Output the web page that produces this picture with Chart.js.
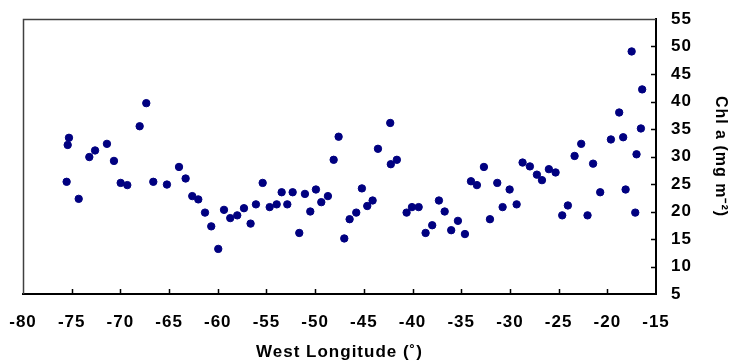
<!DOCTYPE html>
<html>
<head>
<meta charset="utf-8">
<script src="https://cdn.jsdelivr.net/npm/chart.js@4"></script>
<style>
  html, body { margin: 0; padding: 0; background: #fff; }
</style>
</head>
<body>
<canvas id="chlChart" width="730" height="361"></canvas>
<script>
var lonValues = [-75.52, -75.41, -75.28, -74.28, -73.19, -72.6, -71.38, -70.66, -69.97, -69.29,
  -68.02, -67.34, -66.62, -65.22, -63.98, -63.3, -62.62, -62.0, -61.31, -60.67,
  -59.95, -59.36, -58.72, -58.0, -57.31, -56.63, -56.08, -55.39, -54.67, -53.95,
  -53.44, -52.86, -52.31, -51.63, -51.05, -50.5, -49.92, -49.37, -48.69, -48.1,
  -47.59, -47.01, -46.46, -45.78, -45.2, -44.65, -44.1, -43.55, -42.29, -42.23,
  -41.61, -40.61, -40.06, -39.37, -38.66, -37.98, -37.29, -36.7, -36.03, -35.34,
  -34.62, -34.0, -33.39, -32.67, -32.05, -31.3, -30.75, -30.03, -29.31, -28.7,
  -27.95, -27.23, -26.71, -26.0, -25.31, -24.63, -24.05, -23.36, -22.68, -22.03,
  -21.46, -20.73, -19.63, -18.78, -18.37, -18.12, -17.5, -17.13, -17.0, -16.55, -16.42];
var chlValues = [25.4, 32.1, 33.4, 22.3, 29.9, 31.1, 32.3, 29.2, 25.2, 24.8,
  35.5, 39.7, 25.4, 24.9, 28.1, 26.0, 22.8, 22.2, 19.8, 17.3,
  13.2, 20.3, 18.8, 19.3, 20.6, 17.8, 21.3, 25.2, 20.8, 21.3,
  23.5, 21.3, 23.5, 16.1, 23.2, 20.0, 24.0, 21.7, 22.8, 29.4,
  33.6, 15.1, 18.6, 19.8, 24.2, 21.0, 22.0, 31.4, 36.1, 28.6,
  29.4, 19.8, 20.8, 20.8, 16.1, 17.5, 22.0, 20.0, 16.6, 18.3,
  15.9, 25.5, 24.8, 28.1, 18.6, 25.2, 20.8, 24.0, 21.3, 28.9,
  28.2, 26.7, 25.7, 27.7, 27.1, 19.3, 21.1, 30.1, 32.3, 19.3,
  28.7, 23.5, 33.1, 38.0, 33.5, 24.0, 49.1, 19.8, 30.4, 35.1, 42.2];
var xMin = -80, xMax = -15, yMin = 5, yMax = 55, tickStep = 5;
var xTitle = "West Longitude (\u02DA)";
var yTitle = "Chl a (mg m\u207B\u00B2)";
var dotColor = "#000080";

var points = lonValues.map(function (x, i) { return {x: x, y: chlValues[i]}; });

// the reference text is a bit wider than Liberation Sans, space it out
var wideText = {
  id: "wideText",
  beforeDraw: function (chart) { chart.ctx.letterSpacing = "1px"; }
};

// frame on top/left + little inward tick marks
var frameTicks = {
  id: "frameTicks",
  afterDatasetsDraw: function (chart) {
    var ctx = chart.ctx, a = chart.chartArea;
    var xs = chart.scales.x, ys = chart.scales.y;
    ctx.save();
    ctx.strokeStyle = "#404040";
    ctx.lineWidth = 1.5;
    ctx.beginPath();
    ctx.moveTo(a.left + 0.5, a.bottom);
    ctx.lineTo(a.left + 0.5, a.top + 0.5);
    ctx.lineTo(a.right, a.top + 0.5);
    ctx.stroke();
    ctx.strokeStyle = "#000";
    ctx.lineWidth = 1.5;
    ctx.beginPath();
    xs.ticks.forEach(function (t) {
      var px = Math.round(xs.getPixelForValue(t.value)) + 0.5;
      if (t.value === xMin || t.value === xMax) return;
      ctx.moveTo(px, a.bottom);
      ctx.lineTo(px, a.bottom - 5);
    });
    ys.ticks.forEach(function (t) {
      var py = Math.round(ys.getPixelForValue(t.value)) + 0.5;
      if (t.value === yMin || t.value === yMax) return;
      ctx.moveTo(a.right, py);
      ctx.lineTo(a.right - 5, py);
    });
    ctx.stroke();
    ctx.restore();
  }
};

new Chart("chlChart", {
  type: "scatter",
  data: {
    datasets: [{
      data: points,
      backgroundColor: dotColor,
      borderColor: dotColor,
      pointRadius: 3.7,
      pointHoverRadius: 3.7
    }]
  },
  options: {
    responsive: false,
    animation: false,
    layout: {padding: {left: 23, top: 19, right: 0, bottom: 0}},
    plugins: {
      legend: {display: false},
      tooltip: {enabled: false}
    },
    scales: {
      x: {
        type: "linear",
        min: xMin,
        max: xMax,
        afterFit: function (s) {
          s.height = 67;
          s.paddingLeft = 0;
          s.paddingRight = 0;
        },
        grid: {display: false, drawTicks: false},
        border: {display: true, color: "#000", width: 2},
        ticks: {
          stepSize: tickStep,
          padding: 18,
          color: "#000",
          font: {family: "Liberation Sans", size: 17, weight: "bold"}
        },
        title: {
          display: true,
          text: xTitle,
          color: "#000",
          padding: {top: 0, bottom: -2},
          font: {family: "Liberation Sans", size: 17, weight: "bold"}
        }
      },
      y: {
        type: "linear",
        position: "right",
        min: yMin,
        max: yMax,
        afterFit: function (s) {
          s.width = 74;
          s.paddingTop = 0;
          s.paddingBottom = 0;
        },
        grid: {display: false, drawTicks: false},
        border: {display: true, color: "#000", width: 2},
        ticks: {
          stepSize: tickStep,
          padding: 15,
          color: "#000",
          font: {family: "Liberation Sans", size: 17, weight: "bold"}
        },
        title: {
          display: true,
          text: yTitle,
          color: "#000",
          padding: {top: 0, bottom: 4},
          font: {family: "Liberation Sans", size: 16, weight: "bold"}
        }
      }
    }
  },
  plugins: [wideText, frameTicks]
});
</script>
</body>
</html>
